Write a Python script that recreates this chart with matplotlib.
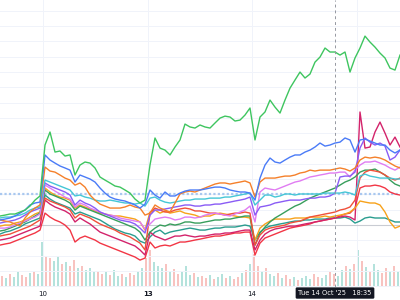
import matplotlib
matplotlib.use("Agg")
import matplotlib.pyplot as plt
import matplotlib.transforms as mtransforms
import numpy as np

# one sample every ~70 min across the visible window (10 Oct -> 15 Oct)
steps = np.arange(81)

# % change of each symbol
green = [0.59, 0.65, 0.72, 0.72, 0.85, 0.98, 1.24, 1.63, 1.90, 5.23,
         6.08, 4.77, 4.84, 4.51, 4.58, 3.27, 3.92, 4.12, 4.05, 3.73,
         3.14, 2.94, 2.75, 2.55, 2.48, 2.29, 2.09, 1.70, 1.44, 1.63,
         3.92, 5.69, 5.03, 4.90, 4.58, 5.10, 5.56, 6.60, 6.41, 6.34,
         6.54, 6.41, 6.34, 6.67, 6.99, 7.12, 7.06, 6.80, 6.86, 7.19,
         7.65, 5.56, 7.06, 7.39, 8.17, 7.71, 7.32, 8.17, 8.95, 9.48,
         10.0, 9.61, 9.87, 10.65, 10.98, 11.57, 11.31, 11.31, 11.11, 11.31,
         10.0, 10.92, 11.57, 12.35, 11.96, 11.63, 11.24, 10.92, 10.26, 10.13,
         11.11]
blue = [0.33, 0.39, 0.46, 0.59, 0.78, 0.98, 1.31, 1.44, 1.50, 4.58,
        4.25, 4.05, 3.86, 3.73, 3.59, 2.81, 3.27, 3.14, 3.01, 2.81,
        2.42, 2.09, 1.83, 1.70, 1.63, 1.57, 1.44, 1.31, 1.11, 1.37,
        2.29, 1.96, 1.76, 2.16, 1.90, 1.90, 2.09, 2.22, 2.29, 2.29,
        2.29, 2.35, 2.42, 2.48, 2.48, 2.42, 2.29, 2.22, 2.16, 2.16,
        2.09, 1.63, 3.07, 3.92, 4.38, 4.12, 4.05, 4.25, 4.44, 4.58,
        4.58, 4.77, 4.90, 5.10, 5.36, 5.16, 5.23, 5.36, 5.42, 5.69,
        5.56, 4.77, 5.56, 5.62, 5.49, 5.36, 5.23, 5.23, 4.90, 4.71,
        4.90]
orange = [0.33, 0.26, 0.20, 0.07, -0.07, 0.46, 0.85, 1.11, 1.31, 3.79,
          3.53, 3.46, 3.27, 3.07, 2.94, 2.61, 2.75, 2.48, 1.96, 1.63,
          1.37, 1.24, 1.11, 1.11, 1.11, 1.18, 1.31, 1.18, 1.11, 0.65,
          0.78, 1.31, 1.11, 0.98, 0.85, 1.44, 2.03, 2.16, 2.22, 2.16,
          2.29, 2.42, 2.55, 2.68, 2.75, 2.75, 2.68, 2.75, 2.81, 2.88,
          2.75, 1.83, 2.81, 3.07, 3.07, 3.07, 3.14, 3.20, 3.20, 3.27,
          3.40, 3.46, 3.59, 3.53, 3.59, 3.59, 3.59, 3.66, 3.73, 3.66,
          3.53, 3.73, 4.25, 4.44, 4.38, 4.44, 4.38, 4.25, 4.05, 3.86,
          3.73]
amber = [-0.07, 0.0, 0.0, 0.13, 0.20, 0.33, 0.52, 0.72, 0.85, 2.42,
         2.16, 1.96, 1.83, 1.76, 1.63, 1.11, 1.31, 1.18, 1.05, 0.92,
         0.78, 0.72, 0.65, 0.59, 0.59, 0.52, 0.46, 0.39, 0.20, -0.33,
         0.85, 0.98, 0.78, 0.92, 0.78, 0.85, 0.92, 0.78, 0.72, 0.65,
         0.52, 0.59, 0.59, 0.72, 0.78, 0.72, 0.65, 0.59, 0.52, 0.52,
         0.46, -0.98, -0.20, 0.07, 0.26, 0.39, 0.39, 0.39, 0.39, 0.46,
         0.46, 0.46, 0.52, 0.52, 0.52, 0.59, 0.52, 0.59, 0.65, 0.72,
         0.85, 1.11, 1.57, 1.50, 1.44, 1.44, 1.31, 0.85, 0.20, -0.20,
         -0.07]
cyan = [0.46, 0.52, 0.52, 0.59, 0.65, 0.78, 0.98, 1.11, 1.18, 2.94,
        2.81, 2.68, 2.55, 2.42, 2.29, 1.90, 1.96, 1.83, 1.76, 1.63,
        1.57, 1.57, 1.63, 1.57, 1.50, 1.44, 1.44, 1.37, 1.44, 1.24,
        1.76, 1.83, 1.63, 1.50, 1.44, 1.50, 1.57, 1.63, 1.63, 1.70,
        1.70, 1.70, 1.76, 1.76, 1.76, 1.83, 1.83, 1.90, 1.96, 2.03,
        2.09, 1.31, 1.63, 1.96, 1.96, 1.83, 1.90, 2.03, 2.03, 1.96,
        2.03, 2.03, 2.03, 2.03, 2.03, 2.09, 2.09, 2.09, 2.09, 2.16,
        2.09, 1.96, 3.20, 3.33, 3.20, 3.14, 3.07, 3.07, 3.07, 3.01,
        3.01]
purple = [0.13, 0.20, 0.26, 0.33, 0.46, 0.65, 0.85, 0.98, 1.11, 2.75,
          2.55, 2.42, 2.29, 2.16, 1.96, 1.31, 1.63, 1.44, 1.31, 1.11,
          0.85, 0.72, 0.59, 0.46, 0.33, 0.26, 0.20, 0.07, -0.20, -0.52,
          0.65, 0.98, 0.98, 1.05, 1.11, 1.18, 1.24, 1.31, 1.31, 1.24,
          1.24, 1.31, 1.31, 1.37, 1.37, 1.44, 1.50, 1.57, 1.63, 1.70,
          1.83, 0.65, 1.18, 1.24, 1.31, 1.44, 1.50, 1.57, 1.63, 1.63,
          1.63, 1.70, 1.76, 1.76, 1.83, 1.83, 1.90, 2.09, 3.14, 3.20,
          3.20, 3.46, 5.03, 5.69, 5.42, 5.23, 5.36, 5.16, 4.25, 4.44,
          4.90]
pink = [-0.20, -0.20, -0.13, 0.0, 0.13, 0.26, 0.39, 0.52, 0.72, 2.61,
        2.42, 2.22, 2.03, 1.83, 1.70, 1.18, 1.44, 1.31, 1.11, 0.98,
        0.85, 0.72, 0.65, 0.59, 0.46, 0.39, 0.33, 0.26, 0.20, -0.26,
        0.07, 0.39, 0.46, 0.52, 0.46, 0.33, 0.39, 0.52, 0.52, 0.46,
        0.52, 0.65, 0.72, 0.78, 0.72, 0.65, 0.59, 0.72, 0.85, 0.98,
        1.24, 0.20, 2.16, 2.42, 2.35, 2.29, 2.42, 2.55, 2.68, 2.81,
        2.88, 3.01, 3.14, 3.20, 3.27, 3.33, 3.40, 3.40, 3.46, 3.46,
        3.14, 3.59, 3.92, 4.12, 4.12, 4.18, 4.05, 3.92, 3.73, 3.59,
        3.79]
teal = [-0.59, -0.46, -0.39, -0.26, -0.13, 0.07, 0.20, 0.33, 0.46, 1.96,
        1.70, 1.50, 1.37, 1.24, 1.11, 0.72, 0.85, 0.72, 0.59, 0.46,
        0.33, 0.13, -0.07, -0.26, -0.39, -0.52, -0.59, -0.72, -1.05, -1.18,
        -0.78, -0.46, -0.33, -0.59, -0.46, -0.39, -0.33, -0.26, -0.20, -0.26,
        -0.33, -0.33, -0.26, -0.20, -0.20, -0.13, -0.13, -0.13, -0.07, 0.0,
        -0.07, -0.98, -0.46, -0.20, -0.07, 0.0, 0.07, 0.13, 0.20, 0.26,
        0.26, 0.33, 0.33, 0.39, 0.39, 0.39, 0.46, 0.46, 0.46, 0.52,
        0.39, 0.13, 0.26, 0.46, 0.52, 0.46, 0.46, 0.46, 0.33, 0.20,
        0.20]
green_mid = [-0.39, -0.33, -0.20, -0.07, 0.07, 0.20, 0.39, 0.59, 0.78, 2.29,
             2.03, 1.90, 1.76, 1.63, 1.44, 0.98, 1.24, 1.11, 0.98, 0.85,
             0.72, 0.59, 0.46, 0.33, 0.20, 0.07, -0.07, -0.20, -0.46, -0.98,
             -0.46, -0.20, 0.0, -0.07, 0.07, 0.0, 0.07, 0.20, 0.20, 0.13,
             0.13, 0.20, 0.26, 0.33, 0.33, 0.39, 0.39, 0.46, 0.52, 0.59,
             0.59, -1.31, -0.52, -0.13, 0.20, 0.46, 0.65, 0.85, 1.05, 1.24,
             1.37, 1.57, 1.76, 1.90, 2.03, 2.16, 2.29, 2.42, 2.61, 2.81,
             2.94, 3.14, 3.46, 3.59, 3.59, 3.66, 3.46, 3.27, 2.94, 2.68,
             2.55]
red = [-1.31, -1.24, -1.18, -1.05, -0.92, -0.78, -0.65, -0.52, -0.33, 0.78,
       0.52, 0.33, 0.20, 0.0, -0.33, -1.11, -0.85, -0.72, -0.85, -0.98,
       -1.18, -1.31, -1.44, -1.57, -1.70, -1.83, -1.96, -2.09, -2.29, -2.16,
       -1.11, -1.50, -1.37, -1.31, -1.37, -1.24, -1.11, -1.11, -1.05, -0.98,
       -0.92, -0.85, -0.78, -0.72, -0.72, -0.65, -0.59, -0.52, -0.52, -0.46,
       -0.46, -1.96, -1.18, -0.85, -0.72, -0.59, -0.46, -0.33, -0.20, -0.13,
       -0.07, 0.0, 0.07, 0.20, 0.26, 0.33, 0.39, 0.46, 0.59, 0.72,
       0.78, 1.11, 2.42, 2.55, 2.55, 2.61, 2.55, 2.42, 2.16, 2.03,
       1.96]
red_orange = [-0.72, -0.65, -0.59, -0.46, -0.33, -0.20, -0.07, 0.13, 0.33, 1.76,
              1.57, 1.44, 1.31, 1.18, 0.98, 0.46, 0.72, 0.59, 0.46, 0.26,
              0.07, -0.07, -0.20, -0.33, -0.52, -0.65, -0.78, -0.98, -1.18, -1.63,
              0.78, 1.11, 0.98, 0.85, 0.85, 0.98, 1.05, 1.11, 1.05, 0.92,
              0.92, 0.85, 0.78, 0.78, 0.72, 0.65, 0.72, 0.78, 0.78, 0.85,
              0.78, -1.31, -0.65, -0.33, -0.20, -0.13, -0.07, 0.0, 0.13, 0.20,
              0.26, 0.39, 0.52, 0.59, 0.65, 0.72, 0.78, 0.85, 0.98, 1.05,
              1.18, 1.63, 3.07, 3.46, 3.59, 3.53, 3.46, 3.27, 3.07, 2.94,
              3.07]
crimson = [-0.98, -0.92, -0.85, -0.72, -0.59, -0.46, -0.33, -0.20, -0.07, 1.63,
           1.37, 1.18, 1.05, 0.92, 0.72, 0.20, 0.46, 0.26, 0.07, -0.20,
           -0.46, -0.59, -0.72, -0.85, -0.98, -1.11, -1.24, -1.37, -1.63, -1.96,
           -0.46, -0.72, -0.85, -0.98, -0.85, -0.72, -0.72, -0.65, -0.72, -0.78,
           -0.72, -0.72, -0.65, -0.59, -0.59, -0.52, -0.52, -0.46, -0.39, -0.33,
           -0.33, -1.63, -0.98, -0.59, -0.39, -0.26, -0.20, -0.13, -0.07, -0.07,
           0.0, 0.07, 0.13, 0.20, 0.26, 0.33, 0.39, 0.46, 0.52, 0.59,
           0.52, 0.33, 7.39, 5.03, 5.10, 6.08, 6.73, 6.01, 5.23, 5.75,
           5.10]

series = [
    (teal, "#2a9d8f"),
    (red, "#f23645"),
    (crimson, "#d3236b"),
    (amber, "#f7a21b"),
    (green_mid, "#389e5c"),
    (red_orange, "#f0503a"),
    (pink, "#e07cf2"),
    (purple, "#8a5cf5"),
    (cyan, "#45c6d6"),
    (orange, "#f5802a"),
    (blue, "#4a7bf7"),
    (green, "#3ec55f"),
]

# volume, one bar per ~55 min
volume = [10, 8, 12, 9, 14, 11, 9, 13, 15, 12,
          44, 30, 28, 25, 30, 22, 24, 20, 26, 18,
          20, 16, 18, 14, 15, 12, 14, 11, 16, 10,
          12, 9, 13, 11, 15, 18, 28, 36, 24, 20,
          18, 22, 15, 17, 12, 14, 20, 11, 13, 9,
          10, 8, 11, 7, 9, 12, 8, 10, 7, 9,
          13, 16, 22, 32, 20, 15, 18, 12, 10, 13,
          8, 11, 7, 9, 6, 8, 10, 7, 12, 9,
          8, 11, 14, 12, 10, 16, 20, 17, 22, 36,
          25, 19, 14, 22, 16, 13, 18, 15, 20, 14]
volume_side = list("rgrggrrgrg" "grrggrgrrg" "rgggrrgrgg" "rgrrggrrgg" "grgrrgggrg"
                   "rrgrggrgrr" "grgrrgrggr" "grrgrgggrr" "ggrrggrgrg" "rgrggrrgrg")
volume_steps = np.arange(len(volume)) * 0.8 + 0.4

day_ticks = [8.6, 29.6, 50.4]
day_labels = ["10", "13", "14"]
next_day = 71.4
cross_step = 67.0
cross_label = "Tue 14 Oct '25   18:35"

fig = plt.figure(figsize=(4, 3), dpi=100)
fig.patch.set_facecolor("white")
ax = fig.add_axes([0, 13 / 300, 1, 287 / 300])
axv = ax.twinx()
ax.set_zorder(axv.get_zorder() + 1)
ax.patch.set_visible(False)

vol_colors = ["#b4e2dc" if s == "g" else "#f8c3c0" for s in volume_side]
axv.bar(volume_steps, volume, width=0.5, color=vol_colors, linewidth=0)
axv.set_ylim(-1, 286)
axv.set_axis_off()

for v in range(-4, 15):
    ax.axhline(v, color="#f0f3fa", lw=0.7, zorder=0)
for d in day_ticks + [next_day]:
    ax.axvline(d, color="#f0f3fa", lw=0.7, zorder=0)

ax.axhline(0, color="#c9ccd3", lw=0.8, zorder=1)
ax.axhline(2.0, color="#a9c8ef", lw=1.6, ls=(0, (1, 1)), zorder=1)

for vals, color in series:
    ax.plot(steps, vals, color=color, lw=1.0, solid_joinstyle="round", zorder=2)

ax.axvline(cross_step, color="#9598a1", lw=0.7, ls=(0, (3, 3)), zorder=3)

ax.set_xlim(0, 80)
ax.set_ylim(-4.05, 14.71)
ax.set_yticks([])
ax.set_xticks(day_ticks, day_labels)
ax.tick_params(axis="x", length=0, pad=3, labelsize=5, labelcolor="#131722")
ax.get_xticklabels()[1].set_fontweight("bold")
for s in ax.spines.values():
    s.set_visible(False)

trans = mtransforms.blended_transform_factory(ax.transData, ax.transAxes)
ax.text(cross_step, -0.021, cross_label, transform=trans, ha="center", va="center",
        fontsize=4.8, color="white", clip_on=False, zorder=5,
        bbox=dict(boxstyle="round,pad=0.4,rounding_size=0.2", fc="#131722", ec="none"))

fig.savefig("out.png", dpi=100)
